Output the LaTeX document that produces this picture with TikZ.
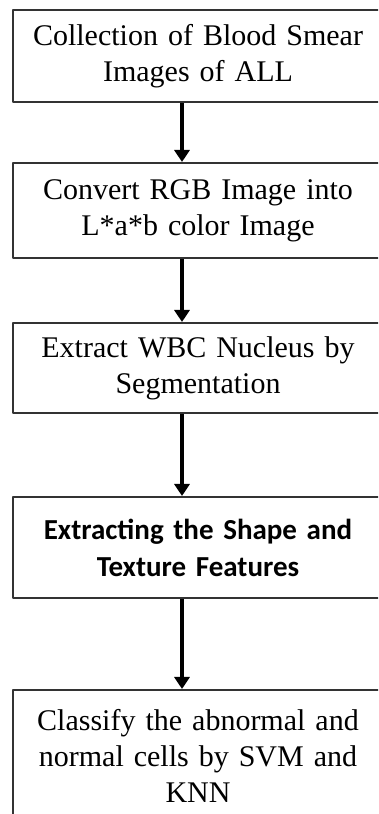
\documentclass[tikz,border=0pt]{standalone}
\usepackage{fontspec}
\setmainfont{Liberation Serif}
\newfontfamily\boxsans{Carlito}
\usetikzlibrary{arrows.meta}
\begin{document}
\begin{tikzpicture}[x=1pt, y=1pt, line join=round, >={Triangle[length=12pt,width=15pt]},
	stepbox/.style={draw=black!80, line width=2pt, minimum width=370pt, text width=360pt, align=center, inner sep=0pt, font=\fontsize{30}{36}\selectfont},
	flow/.style={->, line width=3.5pt}]
	\useasboundingbox (0,0) rectangle (378,814);
	\clip (0,0) rectangle (378,814);
	\fill[white] (0,0) rectangle (378,814);
	% steps, top to bottom
	\node[stepbox, minimum height=92pt] (collect) at (198,758) {Collection of Blood Smear\\Images of ALL};
	\node[stepbox, minimum height=95pt] (convert) at (198,603.5) {Convert RGB Image into\\L*a*b color Image};
	\node[stepbox, minimum height=90pt] (extract) at (198,446) {Extract WBC Nucleus by\\Segmentation};
	\node[stepbox, minimum height=101pt, font=\boxsans\bfseries\fontsize{29}{37}\selectfont] (features) at (198,266.5) {Extracting the Shape and\\Texture Features};
	\node[stepbox, minimum height=132pt] (classify) at (198,58) {Classify the abnormal and\\normal cells by SVM and\\KNN};
	% arrows
	\coordinate (ax) at (182,0);
	\draw[flow] (collect.south -| ax) -- (convert.north -| ax);
	\draw[flow] (convert.south -| ax) -- (extract.north -| ax);
	\draw[flow] (extract.south -| ax) -- (features.north -| ax);
	\draw[flow] (features.south -| ax) -- (classify.north -| ax);
\end{tikzpicture}
\end{document}
